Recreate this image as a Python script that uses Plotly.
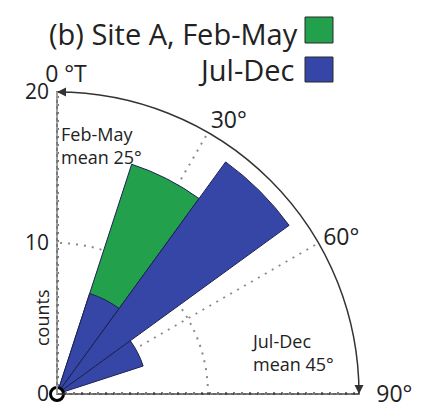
import plotly.graph_objects as go

# Direction bins (degrees true, 18-degree bins) and counts per season
bin_centers = [9, 27, 45, 63, 81]
bin_width = 18
feb_may = [0, 16, 0, 0, 0]
jul_dec = [0, 7, 19, 6, 0]

angle_ticks = [0, 30, 60, 90]
angle_labels = ["\u00a0\u00a0\u00a00 °T", "30°", "60°", "\u00a0\u00a090°"]
count_ticks = [0, 10, 20]

GREEN = "#22a04c"
BLUE = "#3546a6"
EDGE = "#1e2150"
GRID = "#8a8a8a"
DOTS = "2px,6px"
W, H = 439, 414
FONT = "Open Sans"

# pixel geometry of the quarter-rose: origin and outer radius
OX, OY, R = 57, 394, 302


def px(x, y):
    """Pixel position -> paper fraction (margins are zero)."""
    return x / W, 1 - y / H


def nonzero(theta, r):
    pairs = [(t, v) for t, v in zip(theta, r) if v > 0]
    return [p[0] for p in pairs], [p[1] for p in pairs]


fig = go.Figure()
r_max = count_ticks[-1]

# dotted north and east edges of the quarter
for edge in (angle_ticks[0], angle_ticks[-1]):
    fig.add_trace(go.Scatterpolar(theta=[edge, edge], r=[0, r_max], mode="lines",
                                  line=dict(color="#7a7a7a", width=4, dash="2px,6px"),
                                  showlegend=False, hoverinfo="skip"))

t, r = nonzero(bin_centers, feb_may)
fig.add_trace(go.Barpolar(theta=t, r=r, width=[bin_width] * len(t),
                          marker=dict(color=GREEN, line=dict(color=EDGE, width=1)),
                          name="Feb-May", showlegend=False))
t, r = nonzero(bin_centers, jul_dec)
fig.add_trace(go.Barpolar(theta=t, r=r, width=[bin_width] * len(t),
                          marker=dict(color=BLUE, line=dict(color=EDGE, width=1)),
                          name="Jul-Dec", showlegend=False))

# arrowheads on the direction arc and the origin ring
fig.add_trace(go.Scatterpolar(theta=[angle_ticks[0], angle_ticks[-1]], r=[r_max, r_max],
                              mode="markers",
                              marker=dict(symbol=["arrow-left", "arrow-down"], size=9,
                                          color="#333333"),
                              showlegend=False, hoverinfo="skip", cliponaxis=False))
fig.add_trace(go.Scatterpolar(theta=[0], r=[0], mode="markers",
                              marker=dict(symbol="circle", size=13, color="white",
                                          line=dict(color="black", width=3)),
                              showlegend=False, hoverinfo="skip", cliponaxis=False))

x0, y0 = px(OX, OY)
x1, y1 = px(OX + R, OY - R)

fig.update_layout(
    width=W, height=H,
    margin=dict(l=0, r=0, t=0, b=0),
    paper_bgcolor="white",
    font=dict(family=FONT, color="#222222"),
    polar=dict(
        domain=dict(x=[x0, x1], y=[y0, y1]),
        sector=[0, 90],
        barmode="overlay",
        bgcolor="white",
        angularaxis=dict(rotation=90, direction="clockwise",
                         tickmode="array", tickvals=angle_ticks, ticktext=angle_labels,
                         ticks="", showline=True, linecolor="#333333", linewidth=1.5,
                         gridcolor=GRID, griddash=DOTS, gridwidth=2,
                         tickfont=dict(size=23, color="#222222")),
        radialaxis=dict(range=[0, r_max], angle=90, side="counterclockwise",
                        tickangle=90,
                        tickmode="array", tickvals=count_ticks,
                        ticks="", showline=True, linecolor="#b4b4b4", linewidth=1.5,
                        gridcolor=GRID, griddash=DOTS, gridwidth=2,
                        tickfont=dict(size=21, color="#222222")),
    ),
)

ann = []
x, y = px(300, 33)
ann.append(dict(x=x, y=y, text="(b) Site A, Feb-May", xanchor="right", yanchor="middle",
                font=dict(size=29)))
x, y = px(296, 70)
ann.append(dict(x=x, y=y, text="Jul-Dec", xanchor="right", yanchor="middle",
                font=dict(size=29)))
x, y = px(42, 318)
ann.append(dict(x=x, y=y, text="counts", textangle=-90, xanchor="center", yanchor="middle",
                font=dict(size=18)))
x, y = px(59, 120)
ann.append(dict(x=x, y=y, text="Feb-May<br>mean 25°", xanchor="left", yanchor="top",
                align="left", font=dict(size=18)))
x, y = px(249, 327)
ann.append(dict(x=x, y=y, text="Jul-Dec<br>mean 45°", xanchor="left", yanchor="top",
                align="left", font=dict(size=18)))
for a in ann:
    a.update(xref="paper", yref="paper", showarrow=False)
fig.update_layout(annotations=ann)

shapes = []
# dotted north and east edges of the quarter, also as paper-space lines
for (xa, ya), (xb, yb) in [(px(OX, OY - 9), px(OX, OY - R + 6)),
                           (px(OX + 9, OY), px(OX + R - 6, OY))]:
    shapes.append(dict(type="line", xref="paper", yref="paper", x0=xa, y0=ya, x1=xb, y1=yb,
                       line=dict(color="#7a7a7a", width=2, dash="dot"), layer="above"))
# legend swatches
for (top, bottom), col in [((17, 43), GREEN), ((57, 82), BLUE)]:
    xa, ya = px(305, top)
    xb, yb = px(333, bottom)
    shapes.append(dict(type="rect", xref="paper", yref="paper", x0=xa, x1=xb, y0=yb, y1=ya,
                       fillcolor=col, line=dict(color="#2a2a2a", width=1)))
fig.update_layout(shapes=shapes)

fig.write_html("out.html")
